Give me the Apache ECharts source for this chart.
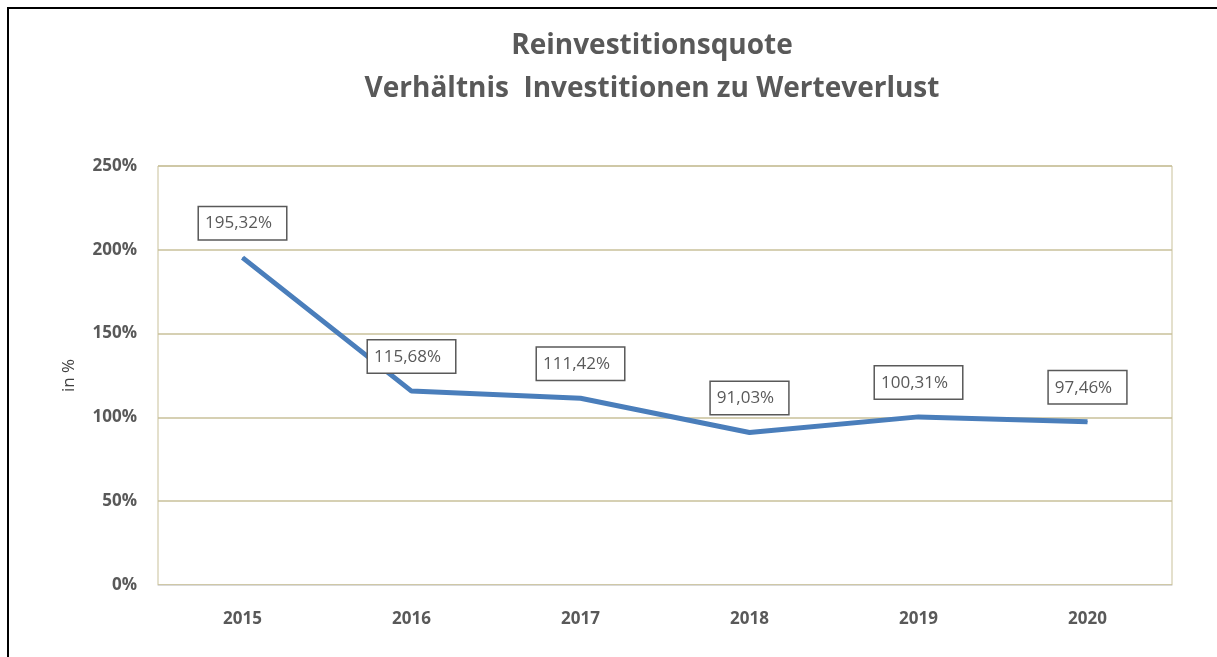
<!DOCTYPE html>
<html>
<head>
<meta charset="utf-8">
<script src="https://cdn.jsdelivr.net/npm/echarts@6/dist/echarts.min.js"></script>
<style>
  html, body { margin: 0; padding: 0; background: #fff; }
  #main { width: 1217px; height: 657px; }
</style>
</head>
<body>
<div id="main"></div>
<script>
// Daten
var jahre = ['2015', '2016', '2017', '2018', '2019', '2020'];
var quote = [195.32, 115.68, 111.42, 91.03, 100.31, 97.46];
var yTicks = [0, 50, 100, 150, 200, 250];

var grau = '#595959';
var tan = '#c9c19a';

var myChart = echarts.init(document.getElementById('main'));

var option = {
    backgroundColor: '#fff',
    textStyle: { fontFamily: 'Open Sans' },
    title: {
        text: 'Reinvestitionsquote\nVerhältnis  Investitionen zu Werteverlust',
        left: 652,
        textAlign: 'center',
        top: 25,
        padding: 0,
        textStyle: {
            fontFamily: 'Open Sans',
            fontSize: 28,
            fontWeight: 'bold',
            color: grau,
            lineHeight: 43
        }
    },
    graphic: [
        {
            type: 'polyline',
            shape: { points: [[8, 657], [8, 8], [1217, 8]] },
            style: { stroke: '#000', lineWidth: 2, fill: null }
        }
    ],
    grid: {
        left: 158,
        right: 45,
        top: 166,
        bottom: 72,
        show: true,
        borderColor: tan,
        borderWidth: 1
    },
    xAxis: {
        type: 'category',
        data: jahre,
        boundaryGap: true,
        axisLine: { lineStyle: { color: '#d9d9d9', width: 1 } },
        axisTick: { show: false },
        axisLabel: {
            margin: 26,
            fontSize: 17,
            fontWeight: 'bold',
            color: grau
        }
    },
    yAxis: {
        type: 'value',
        min: yTicks[0],
        max: yTicks[yTicks.length - 1],
        interval: 50,
        name: 'in %',
        nameLocation: 'middle',
        nameGap: 80,
        nameRotate: 90,
        nameTextStyle: { fontSize: 17, color: '#404040' },
        axisLine: { show: false },
        axisTick: { show: false },
        splitLine: { lineStyle: { color: tan, width: 1.5 } },
        axisLabel: {
            margin: 21,
            fontSize: 17,
            fontWeight: 'bold',
            color: grau,
            formatter: '{value}%'
        }
    },
    series: [
        {
            name: 'Reinvestitionsquote',
            type: 'line',
            data: quote,
            showSymbol: true,
            symbol: 'circle',
            symbolSize: 1,
            lineStyle: { color: '#4a7ebb', width: 5 },
            itemStyle: { color: '#4a7ebb' },
            label: {
                show: true,
                position: 'top',
                distance: 18,
                fontSize: 17,
                color: grau,
                backgroundColor: '#fff',
                borderColor: grau,
                borderWidth: 1.5,
                padding: [8, 14, 7, 6],
                formatter: function (p) {
                    return p.value.toFixed(2).replace('.', ',') + '%';
                }
            }
        }
    ]
};

myChart.setOption(option);
</script>
</body>
</html>
